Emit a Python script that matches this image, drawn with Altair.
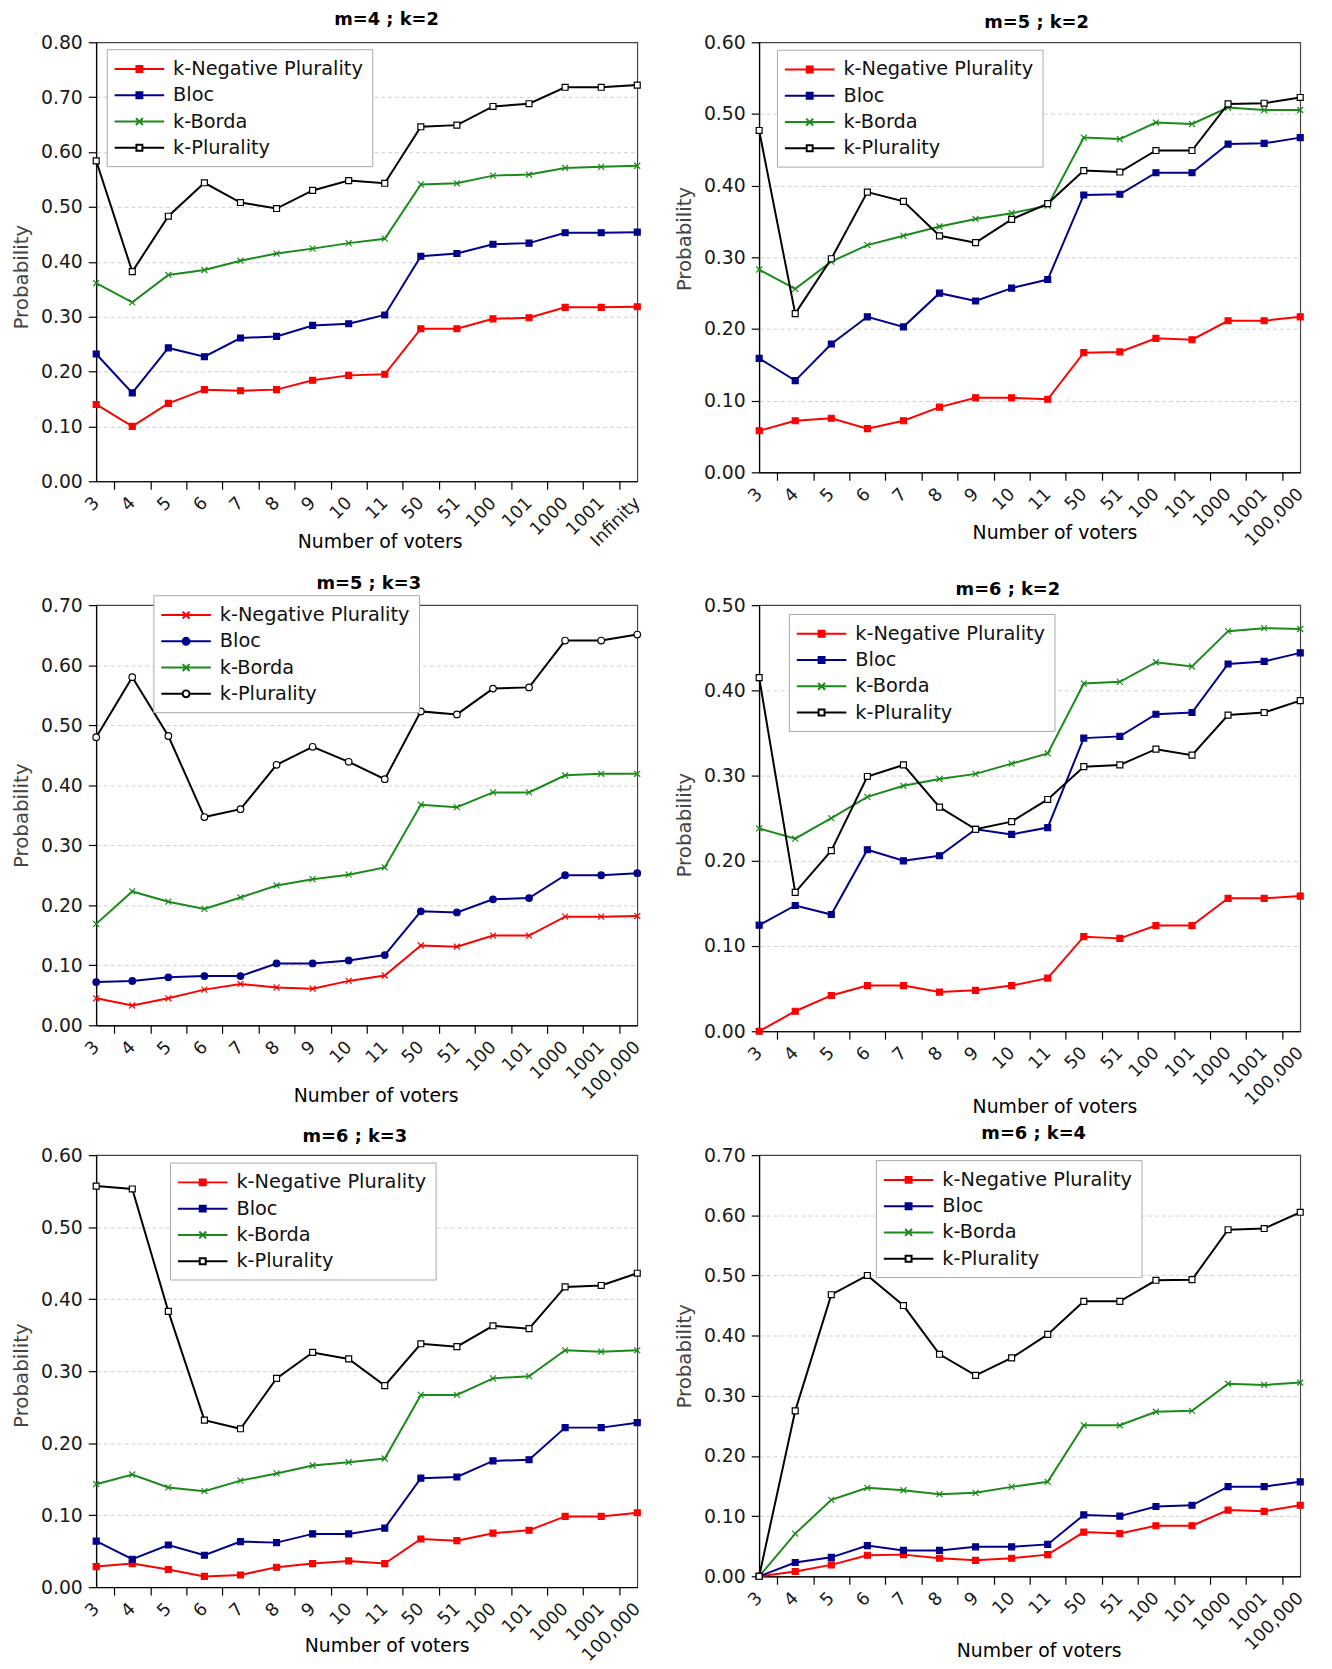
import altair as alt
import pandas as pd

FONT = "DejaVu Sans"
SERIES = ["k-Negative Plurality", "Bloc", "k-Borda", "k-Plurality"]
LINE_COLORS = ["#ff0000", "#00008b", "#1a8a1a", "#000000"]
FILL_COLORS = ["#ff0000", "#00008b", "#1a8a1a", "#ffffff"]

X_INF = ["3", "4", "5", "6", "7", "8", "9", "10", "11", "50", "51", "100", "101", "1000", "1001", "Infinity"]
X_BIG = ["3", "4", "5", "6", "7", "8", "9", "10", "11", "50", "51", "100", "101", "1000", "1001", "100,000"]

# m=4 ; k=2
neg1 = [0.140, 0.100, 0.142, 0.167, 0.165, 0.167, 0.184, 0.193, 0.195, 0.278, 0.278, 0.296, 0.298, 0.317, 0.317, 0.318]
bloc1 = [0.232, 0.161, 0.243, 0.227, 0.261, 0.264, 0.284, 0.287, 0.303, 0.410, 0.415, 0.432, 0.434, 0.453, 0.453, 0.454]
borda1 = [0.361, 0.326, 0.376, 0.385, 0.402, 0.415, 0.424, 0.434, 0.442, 0.541, 0.543, 0.557, 0.559, 0.571, 0.573, 0.575]
plur1 = [0.584, 0.382, 0.483, 0.544, 0.508, 0.497, 0.530, 0.548, 0.543, 0.646, 0.649, 0.683, 0.688, 0.718, 0.718, 0.722]

# m=5 ; k=2
neg2 = [0.058, 0.072, 0.0755, 0.061, 0.072, 0.091, 0.104, 0.104, 0.102, 0.167, 0.168, 0.187, 0.185, 0.2115, 0.2115, 0.217]
bloc2 = [0.159, 0.128, 0.179, 0.217, 0.203, 0.250, 0.239, 0.257, 0.269, 0.387, 0.388, 0.418, 0.418, 0.458, 0.459, 0.467]
borda2 = [0.283, 0.256, 0.294, 0.317, 0.330, 0.343, 0.3535, 0.3615, 0.372, 0.467, 0.465, 0.488, 0.486, 0.509, 0.5055, 0.5055]
plur2 = [0.477, 0.2215, 0.298, 0.391, 0.378, 0.330, 0.3205, 0.353, 0.375, 0.421, 0.419, 0.449, 0.449, 0.514, 0.515, 0.523]

# m=5 ; k=3
neg3 = [0.045, 0.033, 0.045, 0.0595, 0.069, 0.063, 0.061, 0.074, 0.083, 0.133, 0.131, 0.1495, 0.1495, 0.181, 0.181, 0.182]
bloc3 = [0.072, 0.074, 0.080, 0.082, 0.082, 0.103, 0.103, 0.108, 0.117, 0.190, 0.188, 0.210, 0.212, 0.250, 0.250, 0.2535]
borda3 = [0.169, 0.223, 0.206, 0.194, 0.213, 0.233, 0.2435, 0.251, 0.263, 0.3675, 0.3635, 0.388, 0.388, 0.4165, 0.419, 0.419]
plur3 = [0.480, 0.580, 0.482, 0.347, 0.360, 0.434, 0.464, 0.439, 0.410, 0.523, 0.518, 0.561, 0.563, 0.641, 0.641, 0.651]

# m=6 ; k=2
neg4 = [0.000, 0.0235, 0.042, 0.0536, 0.0536, 0.046, 0.048, 0.0536, 0.0623, 0.111, 0.109, 0.124, 0.124, 0.156, 0.156, 0.1586]
bloc4 = [0.1245, 0.1476, 0.137, 0.213, 0.200, 0.206, 0.237, 0.231, 0.239, 0.344, 0.346, 0.372, 0.374, 0.431, 0.434, 0.444]
borda4 = [0.238, 0.226, 0.250, 0.275, 0.288, 0.296, 0.302, 0.314, 0.326, 0.408, 0.410, 0.433, 0.428, 0.4695, 0.473, 0.472]
plur4 = [0.415, 0.163, 0.212, 0.299, 0.3125, 0.263, 0.237, 0.246, 0.272, 0.3105, 0.3125, 0.331, 0.324, 0.371, 0.374, 0.388]

# m=6 ; k=3
neg5 = [0.0286, 0.0328, 0.0245, 0.015, 0.017, 0.0277, 0.0328, 0.0365, 0.0328, 0.067, 0.0646, 0.075, 0.079, 0.0983, 0.0983, 0.1034]
bloc5 = [0.064, 0.0388, 0.0586, 0.0443, 0.0633, 0.0619, 0.074, 0.074, 0.082, 0.1514, 0.153, 0.1754, 0.177, 0.2216, 0.2216, 0.2285]
borda5 = [0.143, 0.1565, 0.1385, 0.1334, 0.148, 0.158, 0.169, 0.1736, 0.1787, 0.267, 0.267, 0.290, 0.293, 0.329, 0.327, 0.329]
plur5 = [0.557, 0.553, 0.383, 0.232, 0.220, 0.290, 0.326, 0.317, 0.280, 0.338, 0.334, 0.363, 0.359, 0.417, 0.419, 0.436]

# m=6 ; k=4
neg6 = [0.0, 0.008, 0.019, 0.035, 0.036, 0.030, 0.0265, 0.030, 0.036, 0.0735, 0.071, 0.084, 0.084, 0.110, 0.108, 0.118]
bloc6 = [0.0, 0.023, 0.0315, 0.051, 0.043, 0.043, 0.049, 0.049, 0.053, 0.102, 0.100, 0.116, 0.118, 0.149, 0.149, 0.157]
borda6 = [0.0, 0.071, 0.127, 0.147, 0.143, 0.1365, 0.1387, 0.1486, 0.157, 0.251, 0.251, 0.2735, 0.275, 0.320, 0.318, 0.322]
plur6 = [0.0, 0.275, 0.468, 0.500, 0.450, 0.369, 0.334, 0.363, 0.402, 0.457, 0.457, 0.492, 0.493, 0.576, 0.578, 0.605]

# marker shapes
XMARK = "M-1,-1L1,1M-1,1L1,-1"
SHAPES_STD = ["square", "square", XMARK, "square"]
SHAPES_CIRC = [XMARK, "circle", XMARK, "circle"]

# legend symbols (line + marker), unit = 10px at symbolSize 400
LFULL = "M-2.5,0H2.5"
L_SQ_F = LFULL + "M-0.3,-0.3H0.3V0.3H-0.3Z"
L_SQ_O = "M-2.5,0H-0.3M0.3,0H2.5M-0.3,-0.3H0.3V0.3H-0.3Z"
L_X = LFULL + "M-0.35,-0.35L0.35,0.35M-0.35,0.35L0.35,-0.35"
CIRC = "M-0.35,0A0.35,0.35,0,1,0,0.35,0A0.35,0.35,0,1,0,-0.35,0Z"
L_CI_F = LFULL + CIRC
L_CI_O = "M-2.5,0H-0.35M0.35,0H2.5" + CIRC
LEG_STD = [L_SQ_F, L_SQ_F, L_X, L_SQ_O]
LEG_CIRC = [L_X, L_CI_F, L_X, L_CI_O]


def panel(title, xlabels, vals, ymax, width, height, lx, ly, shapes, legsyms,
          tdx, tdy, xtdx, xty, ytdy):
    rows = []
    for s, arr in zip(SERIES, vals):
        for i, (lab, v) in enumerate(zip(xlabels, arr)):
            rows.append({"x": lab, "idx": i, "series": s, "value": v})
    df = pd.DataFrame(rows)
    half = width / (len(xlabels) - 1) / 2.0
    xenc = alt.X(
        "x:N", sort=xlabels, scale=alt.Scale(type="point", padding=0),
        axis=alt.Axis(
            title="Number of voters", labelAngle=-45, labelAlign="right",
            labelBaseline="middle", labelPadding=11, labelFontSize=18,
            tickOffset=half, labelOffset=-half, tickSize=8,
            tickOpacity={"condition": {"test": "datum.value == '" + xlabels[-1] + "'", "value": 0}, "value": 1},
            titleX=width / 2 + xtdx, titleY=xty, titleAlign="center",
            titleBaseline="middle", titleFontSize=19, titleFontWeight="normal",
            grid=False,
        ),
    )
    yvals = [round(i * 0.1, 2) for i in range(int(round(ymax * 10)) + 1)]
    yenc = alt.Y(
        "value:Q", scale=alt.Scale(domain=[0, ymax], nice=False, zero=True),
        axis=alt.Axis(
            title="Probability", values=yvals, format=".2f", labelFontSize=19,
            tickSize=8, labelPadding=6, grid=True, gridDash=[4, 3],
            gridColor="#cfcfcf", gridWidth=1,
            gridOpacity={"condition": {"test": "datum.value <= 0 || datum.value >= " + str(ymax - 0.001),
                                       "value": 0}, "value": 1},
            titleX=-75, titleY=height / 2 + ytdy, titleAlign="center", titleBaseline="middle",
            titleFontSize=20, titleFontWeight="normal", titleColor="#444444",
        ),
    )
    legkw = dict(
        title=None, orient="none", legendX=lx, legendY=ly, direction="vertical",
        fillColor="white", strokeColor="#a8a8a8", padding=9,
        symbolType=legsyms[0], symbolSize=400, symbolStrokeWidth=2,
        symbolOffset=13, labelOffset=23, labelFontSize=19.5, labelFont=FONT,
        labelColor="#111111", rowPadding=5.5, labelLimit=400,
    )
    base = alt.Chart(df)
    line = base.mark_line(strokeWidth=2).encode(
        x=xenc, y=yenc,
        color=alt.Color("series:N", scale=alt.Scale(domain=SERIES, range=LINE_COLORS),
                        legend=alt.Legend(**legkw)),
        order=alt.Order("idx:Q"),
    )
    # carrier of the legend's per-entry symbols (draws nothing)
    legend_marks = base.transform_filter("false").mark_point(
        filled=True, size=30, opacity=1).encode(
        x=xenc, y=yenc,
        shape=alt.Shape("series:N", scale=alt.Scale(domain=SERIES, range=legsyms), legend=None),
        fill=alt.Fill("series:N", scale=alt.Scale(domain=SERIES, range=FILL_COLORS), legend=None),
        stroke=alt.Stroke("series:N", scale=alt.Scale(domain=SERIES, range=LINE_COLORS), legend=None),
    )
    layers = [line, legend_marks]
    for s, shp, fc, sc in zip(SERIES, shapes, FILL_COLORS, LINE_COLORS):
        sz = 44 if shp == "circle" else 36
        layers.append(
            base.transform_filter(alt.datum.series == s).mark_point(
                shape=shp, filled=True, fill=fc, stroke=sc, size=sz,
                strokeWidth=1.2, opacity=1,
            ).encode(x=xenc, y=yenc)
        )
    return alt.layer(*layers).properties(
        width=width, height=height,
        title=alt.TitleParams(title, anchor="middle", frame="group", dx=tdx, dy=tdy, offset=6,
                              fontSize=18, fontWeight="bold", font=FONT),
    )


W = 546
p1 = panel("m=4 ; k=2", X_INF, [neg1, bloc1, borda1, plur1], 0.8, W, 443, 10.6, 7,
           SHAPES_STD, LEG_STD, 20, 1.4, 13, 61, 15)
p2 = panel("m=5 ; k=2", X_BIG, [neg2, bloc2, borda2, plur2], 0.6, W, 434, 18, 7.5,
           SHAPES_STD, LEG_STD, 7, 5, 25, 61, -19)
p3 = panel("m=5 ; k=3", X_BIG, [neg3, bloc3, borda3, plur3], 0.7, W, 424, 57.7, -10,
           SHAPES_CIRC, LEG_CIRC, 2, 3.9, 9, 71, 0)
p4 = panel("m=6 ; k=2", X_BIG, [neg4, bloc4, borda4, plur4], 0.5, W, 430, 30, 8.9,
           SHAPES_STD, LEG_STD, -22, 9, 25, 76, 6.5)
p5 = panel("m=6 ; k=3", X_BIG, [neg5, bloc5, borda5, plur5], 0.6, W, 436, 74.5, 7.5,
           SHAPES_STD, LEG_STD, -12, 5.7, 20, 59, 4)
p6 = panel("m=6 ; k=4", X_BIG, [neg6, bloc6, borda6, plur6], 0.7, W, 425, 117.8, 5,
           SHAPES_STD, LEG_STD, 4, 2.7, 9, 75, -10)

chart = alt.concat(p1, p2, p3, p4, p5, p6, columns=2,
                   spacing=alt.RowColnumber(row=125, column=123),
                   bounds="flush").resolve_scale(
    color="independent", shape="independent", fill="independent", stroke="independent"
).resolve_legend(color="independent")

chart = chart.properties(
    padding={"left": 3, "top": -6, "right": 5, "bottom": 0}
).configure_view(stroke="#444444", strokeWidth=1.2).configure_axis(
    labelFont=FONT, titleFont=FONT, labelColor="#1a1a1a", domainColor="#000000",
    tickColor="#000000", domainWidth=1.2, tickWidth=1.2,
).configure_title(font=FONT, color="#000000")

chart.save("out.html", embed_options={"renderer": "svg", "actions": False})
